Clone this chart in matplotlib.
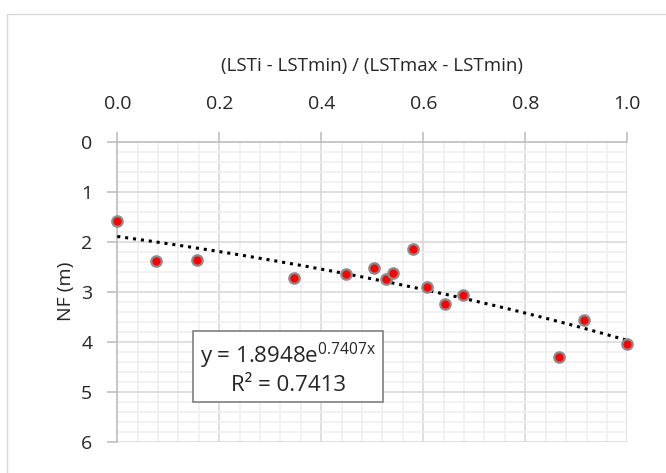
import numpy as np
import matplotlib.pyplot as plt
from matplotlib.ticker import MultipleLocator, FormatStrFormatter
from matplotlib.patches import Rectangle

plt.rcParams['font.family'] = ['Open Sans', 'DejaVu Sans']
plt.rcParams['mathtext.fontset'] = 'custom'
plt.rcParams['mathtext.rm'] = 'Open Sans'

# scatter values
lst_norm = [0.0, 0.076, 0.156, 0.347, 0.448, 0.504, 0.526, 0.541, 0.579,
            0.608, 0.643, 0.677, 0.866, 0.916, 1.0]
nf = [1.59, 2.39, 2.37, 2.73, 2.65, 2.52, 2.75, 2.63, 2.15,
      2.91, 3.25, 3.07, 4.30, 3.57, 4.05]

# exponential trendline shown on the chart
coef_a = 1.8948
coef_b = 0.7407
r2 = 0.7413

fig = plt.figure(figsize=(6.66, 4.73), dpi=100)
fig.patches.append(Rectangle((7 / 666, -0.1), 1.2, 1 - 14 / 473 + 0.1,
                             transform=fig.transFigure, fill=False,
                             edgecolor='#d9d9d9', linewidth=1))

ax = fig.add_axes([0.1761, 0.0662, 0.7658, 0.6342])

xt = np.linspace(0, 1, 200)
ax.plot(xt, coef_a * np.exp(coef_b * xt), color='black', linestyle=(0, (1, 1.6)),
        linewidth=2.2, zorder=3)
ax.plot(lst_norm, nf, 'o', color='#ff0000', markersize=7.5,
        markeredgecolor='#8c8c8c', markeredgewidth=1.6, zorder=4, clip_on=False)

ax.set_xlim(0, 1)
ax.set_ylim(6, 0)
ax.xaxis.tick_top()
ax.xaxis.set_label_position('top')
ax.xaxis.set_major_locator(MultipleLocator(0.2))
ax.xaxis.set_minor_locator(MultipleLocator(0.04))
ax.xaxis.set_major_formatter(FormatStrFormatter('%.1f'))
ax.yaxis.set_major_locator(MultipleLocator(1))
ax.yaxis.set_minor_locator(MultipleLocator(0.2))

ax.grid(which='major', color='#d9d9d9', linewidth=1.2)
ax.grid(which='minor', color='#f0f0f0', linewidth=1.2)
ax.set_axisbelow(True)

for s in ['right', 'bottom']:
    ax.spines[s].set_visible(False)
for s in ['top', 'left']:
    ax.spines[s].set_color('#bfbfbf')
    ax.spines[s].set_linewidth(1.2)

ax.tick_params(which='major', length=7, color='#bfbfbf', width=1.2,
               labelsize=14, labelcolor='#262626')
ax.tick_params(axis='x', which='major', pad=14)
ax.tick_params(axis='y', which='major', pad=11)
ax.tick_params(which='minor', length=0)

ax.set_xlabel('(LSTi - LSTmin) / (LSTmax - LSTmin)', fontsize=13.5,
              color='#262626', labelpad=17)
ax.set_ylabel('NF (m)', fontsize=14, color='#262626', labelpad=4)

ax.text(0.335, 4.53, 'y = 1.8948e$^{\\mathrm{0.7407x}}$\nR² = ' + str(r2), fontsize=16,
        ha='center', va='center', color='#262626', linespacing=1.25,
        bbox=dict(boxstyle='square,pad=0.3', facecolor='white',
                  edgecolor='#7f7f7f', linewidth=1.2), zorder=5)

fig.savefig('out.png', dpi=100)
